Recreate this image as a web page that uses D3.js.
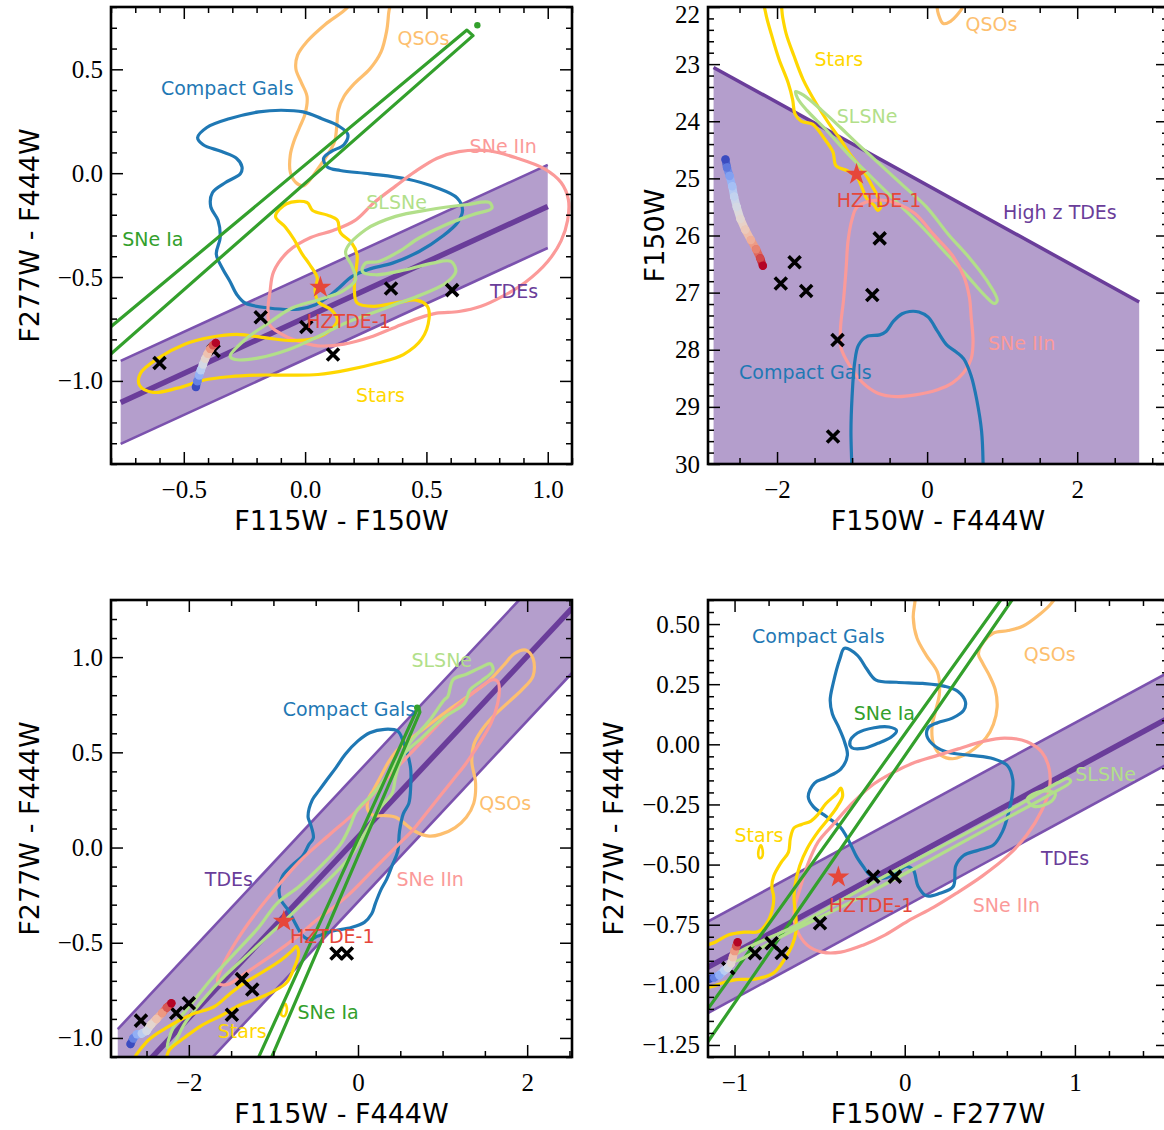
<!DOCTYPE html>
<html>
<head>
<meta charset="utf-8">
<script src="https://cdn.jsdelivr.net/npm/d3@7"></script>
<style>
  html, body { margin: 0; padding: 0; background: #ffffff; }
  svg { display: block; }
</style>
</head>
<body>
<script>
// ---------------------------------------------------------------------------
// Colour-colour / colour-magnitude diagrams for transient and source classes
// ---------------------------------------------------------------------------

// ---- Panel 1: F115W-F150W vs F277W-F444W ----
const p1XTicks = [-0.5, 0.0, 0.5, 1.0];
const p1XTickLabels = ["−0.5", "0.0", "0.5", "1.0"];
const p1YTicks = [0.5, 0.0, -0.5, -1.0];
const p1YTickLabels = ["0.5", "0.0", "−0.5", "−1.0"];
const p1TdeBand = { slope: 0.536, intercept: -0.696, halfWidth: 0.2, xMin: -0.76, xMax: 1.0 };
const p1Compact = [[-0.443,0.171],[-0.405,0.220],[-0.313,0.262],[-0.191,0.295],[-0.099,0.303],[-0.008,0.295],[0.069,0.262],[0.137,0.228],[0.176,0.187],[0.160,0.137],[0.107,0.104],[0.076,0.071],[0.092,0.030],[0.145,0.013],[0.267,-0.003],[0.420,-0.028],[0.542,-0.070],[0.626,-0.119],[0.649,-0.177],[0.630,-0.235],[0.566,-0.304],[0.470,-0.377],[0.360,-0.433],[0.263,-0.462],[0.194,-0.497],[0.139,-0.553],[0.098,-0.593],[0.043,-0.633],[-0.026,-0.654],[-0.150,-0.649],[-0.247,-0.625],[-0.281,-0.585],[-0.310,-0.520],[-0.340,-0.460],[-0.366,-0.390],[-0.350,-0.310],[-0.359,-0.227],[-0.389,-0.161],[-0.382,-0.094],[-0.328,-0.045],[-0.267,-0.003],[-0.260,0.030],[-0.282,0.071],[-0.344,0.104],[-0.420,0.137]];
const p1Qso = [[0.206,0.87],[0.176,0.800],[0.084,0.717],[0.008,0.634],[-0.031,0.568],[-0.038,0.502],[-0.015,0.435],[0.008,0.369],[0.0,0.286],[-0.023,0.220],[-0.046,0.154],[-0.061,0.088],[-0.061,0.005],[-0.038,-0.045],[-0.008,-0.061],[0.023,-0.028],[0.053,0.022],[0.092,0.088],[0.122,0.154],[0.130,0.220],[0.137,0.303],[0.160,0.369],[0.206,0.435],[0.267,0.502],[0.313,0.584],[0.336,0.684],[0.344,0.767],[0.351,0.87],[0.28,0.95]];
const p1SneIa = [[-0.90,-0.836],[0.667,0.689],[0.692,0.662],[-0.90,-0.972]];
const p1SneIaTip = [0.71, 0.712];
const p1SneIIn = [[-0.130,-0.475],[-0.069,-0.376],[0.023,-0.310],[0.115,-0.276],[0.206,-0.227],[0.282,-0.144],[0.374,-0.061],[0.450,0.005],[0.542,0.071],[0.634,0.104],[0.756,0.108],[0.878,0.071],[0.985,0.022],[1.055,-0.045],[1.085,-0.127],[1.082,-0.227],[1.055,-0.326],[1.0,-0.425],[0.908,-0.525],[0.817,-0.591],[0.725,-0.641],[0.634,-0.666],[0.542,-0.674],[0.466,-0.699],[0.374,-0.740],[0.267,-0.790],[0.160,-0.823],[0.053,-0.831],[-0.038,-0.806],[-0.099,-0.773],[-0.145,-0.732],[-0.153,-0.657],[-0.145,-0.575]];
const p1Slsne = [[-0.309,-0.881],[-0.247,-0.801],[-0.150,-0.721],[-0.054,-0.649],[0.056,-0.609],[0.153,-0.569],[0.208,-0.513],[0.194,-0.449],[0.167,-0.377],[0.249,-0.272],[0.373,-0.208],[0.511,-0.176],[0.663,-0.152],[0.759,-0.141],[0.770,-0.168],[0.690,-0.200],[0.580,-0.248],[0.470,-0.312],[0.387,-0.377],[0.304,-0.425],[0.249,-0.433],[0.236,-0.473],[0.291,-0.489],[0.415,-0.465],[0.525,-0.433],[0.601,-0.425],[0.621,-0.473],[0.580,-0.529],[0.497,-0.577],[0.387,-0.625],[0.277,-0.673],[0.167,-0.721],[0.056,-0.785],[-0.067,-0.849],[-0.191,-0.889],[-0.288,-0.897]];
const p1Stars = [[-0.122,-0.207],[-0.076,-0.147],[0.008,-0.141],[0.031,-0.180],[0.092,-0.202],[0.133,-0.227],[0.145,-0.285],[0.191,-0.334],[0.214,-0.392],[0.209,-0.475],[0.203,-0.558],[0.214,-0.624],[0.282,-0.641],[0.389,-0.621],[0.458,-0.611],[0.504,-0.641],[0.511,-0.699],[0.481,-0.798],[0.405,-0.873],[0.298,-0.914],[0.176,-0.947],[0.053,-0.969],[-0.069,-0.972],[-0.191,-0.972],[-0.313,-0.980],[-0.420,-0.997],[-0.527,-1.035],[-0.626,-1.055],[-0.682,-1.022],[-0.679,-0.964],[-0.603,-0.889],[-0.496,-0.823],[-0.389,-0.790],[-0.282,-0.776],[-0.160,-0.793],[-0.053,-0.806],[0.038,-0.795],[0.099,-0.760],[0.133,-0.707],[0.107,-0.657],[0.056,-0.621],[0.041,-0.566],[0.050,-0.505],[0.020,-0.442],[-0.015,-0.384],[-0.046,-0.318],[-0.081,-0.260]];
const p1Tdes = [[-0.600,-0.914],[-0.377,-0.856],[-0.183,-0.694],[0.005,-0.740],[0.115,-0.873],[0.354,-0.555],[0.606,-0.563]];
const p1Track = [[-0.450,-1.029],[-0.444,-1.002],[-0.437,-0.974],[-0.430,-0.949],[-0.421,-0.921],[-0.412,-0.894],[-0.402,-0.869],[-0.391,-0.846],[-0.380,-0.829],[-0.368,-0.817]];
const p1Hztde = [0.063, -0.550];
const p1Labels = [
  ["QSOs", 0.381, 0.649, "qso"], ["Compact Gals", -0.594, 0.409, "compact"],
  ["SNe IIn", 0.678, 0.132, "iin"], ["SLSNe", 0.252, -0.138, "slsn"],
  ["SNe Ia", -0.754, -0.316, "ia"], ["TDEs", 0.762, -0.565, "tde"],
  ["HZTDE-1", 0.005, -0.714, "hz"], ["Stars", 0.210, -1.070, "stars"]
];

// ---- Panel 2: F150W-F444W vs F150W ----
const p2XTicks = [-2, 0, 2];
const p2XTickLabels = ["−2", "0", "2"];
const p2YTicks = [22, 23, 24, 25, 26, 27, 28, 29, 30];
const p2YTickLabels = ["22", "23", "24", "25", "26", "27", "28", "29", "30"];
const p2TdeLimit = { slope: 0.724, intercept: 25.118, xMin: -2.846, xMax: 2.826 };
const p2Stars = [[-2.174,21.85],[-2.149,22.12],[-2.075,22.48],[-1.975,22.91],[-1.851,23.33],[-1.791,23.63],[-1.761,23.87],[-1.677,24.00],[-1.527,24.05],[-1.378,24.29],[-1.254,24.54],[-1.214,24.78],[-1.055,24.87],[-0.930,24.99],[-0.866,25.17],[-0.806,25.35],[-0.706,25.47],[-0.657,25.56],[-0.617,25.50],[-0.657,25.32],[-0.731,25.14],[-0.806,24.96],[-0.905,24.78],[-1.030,24.57],[-1.154,24.32],[-1.303,24.05],[-1.478,23.69],[-1.652,23.27],[-1.776,22.85],[-1.876,22.48],[-1.925,22.18],[-1.960,21.85],[-2.07,21.6]];
const p2Qso = [[0.129,21.80],[0.129,21.95],[0.149,22.12],[0.214,22.29],[0.313,22.25],[0.413,22.12],[0.488,21.97],[0.537,21.80],[0.33,21.6]];
const p2Slsne = [[-1.751,23.48],[-1.652,23.54],[-1.403,23.81],[-1.154,24.11],[-0.955,24.36],[-0.657,24.72],[-0.308,25.14],[-0.010,25.50],[0.289,25.99],[0.537,26.35],[0.786,26.77],[0.935,27.13],[0.896,27.19],[0.761,27.04],[0.537,26.71],[0.239,26.29],[-0.060,25.86],[-0.408,25.41],[-0.756,24.96],[-1.055,24.57],[-1.353,24.14],[-1.602,23.81],[-1.726,23.60]];
const p2SneIIn = [[-0.930,25.50],[-0.657,25.38],[-0.408,25.44],[-0.159,25.62],[0.090,25.99],[0.338,26.35],[0.488,26.71],[0.562,27.07],[0.587,27.43],[0.612,27.86],[0.587,28.16],[0.488,28.40],[0.338,28.58],[0.139,28.70],[-0.159,28.79],[-0.408,28.82],[-0.657,28.76],[-0.856,28.58],[-1.030,28.28],[-1.144,27.98],[-1.154,27.62],[-1.114,27.13],[-1.080,26.59],[-1.055,26.11],[-1.005,25.74]];
const p2Compact = [[-1.005,30.2],[-1.005,30.0],[-1.015,29.43],[-1.0,28.82],[-0.965,28.22],[-0.915,27.92],[-0.806,27.77],[-0.632,27.74],[-0.547,27.68],[-0.448,27.50],[-0.333,27.37],[-0.234,27.33],[-0.109,27.34],[0.015,27.43],[0.139,27.68],[0.264,27.92],[0.388,28.04],[0.488,28.16],[0.587,28.46],[0.662,28.88],[0.726,29.43],[0.746,30.0],[0.746,30.2],[-0.13,30.4]];
const p2Tdes = [[-1.766,26.47],[-1.950,26.84],[-1.612,26.97],[-0.632,26.05],[-0.731,27.04],[-1.194,27.83],[-1.254,29.52]];
const p2Track = [[-2.687,24.67],[-2.667,24.81],[-2.632,24.96],[-2.597,25.14],[-2.572,25.32],[-2.537,25.50],[-2.488,25.71],[-2.423,25.90],[-2.348,26.08],[-2.279,26.24],[-2.224,26.40],[-2.189,26.53]];
const p2Hztde = [-0.940, 24.93];
const p2Labels = [
  ["QSOs", 0.512, 22.30, "qso"], ["Stars", -1.502, 22.91, "stars"],
  ["SLSNe", -1.204, 23.90, "slsn"], ["High z TDEs", 1.010, 25.59, "tde"],
  ["HZTDE-1", -1.204, 25.38, "hz"], ["SNe IIn", 0.811, 27.89, "iin"],
  ["Compact Gals", -2.507, 28.39, "compact"]
];

// ---- Panel 3: F115W-F444W vs F277W-F444W ----
const p3XTicks = [-2, 0, 2];
const p3XTickLabels = ["−2", "0", "2"];
const p3YTicks = [1.0, 0.5, 0.0, -0.5, -1.0];
const p3YTickLabels = ["1.0", "0.5", "0.0", "−0.5", "−1.0"];
const p3TdeBand = { slope: 0.475, intercept: 0.055, halfWidth: 0.34, xMin: -2.84, xMax: 2.6 };
const p3Compact = [[0.316,0.621],[0.469,0.612],[0.535,0.557],[0.579,0.503],[0.623,0.413],[0.623,0.322],[0.601,0.232],[0.535,0.177],[0.491,0.087],[0.469,-0.022],[0.404,-0.094],[0.338,-0.167],[0.272,-0.221],[0.206,-0.293],[0.162,-0.348],[0.075,-0.393],[-0.079,-0.420],[-0.298,-0.438],[-0.474,-0.465],[-0.570,-0.483],[-0.649,-0.465],[-0.737,-0.402],[-0.825,-0.329],[-0.912,-0.275],[-0.934,-0.221],[-0.890,-0.148],[-0.781,-0.094],[-0.649,-0.040],[-0.583,0.014],[-0.528,0.050],[-0.561,0.123],[-0.590,0.160],[-0.540,0.250],[-0.460,0.300],[-0.370,0.355],[-0.260,0.420],[-0.150,0.490],[0.00,0.560],[0.140,0.603]];
const p3Qso = [[1.982,1.037],[2.070,0.992],[2.070,0.901],[1.939,0.829],[1.763,0.757],[1.588,0.684],[1.456,0.612],[1.368,0.539],[1.346,0.449],[1.390,0.340],[1.368,0.232],[1.281,0.159],[1.149,0.105],[0.974,0.069],[0.842,0.060],[0.667,0.087],[0.535,0.132],[0.447,0.159],[0.316,0.168],[0.184,0.168],[0.118,0.195],[0.118,0.250],[0.184,0.304],[0.272,0.376],[0.360,0.449],[0.447,0.503],[0.579,0.557],[0.798,0.630],[1.061,0.720],[1.325,0.802],[1.544,0.874],[1.719,0.956],[1.851,1.019]];
const p3SneIa = [[-1.276,-1.2],[0.702,0.729],[0.717,0.737],[0.732,0.711],[-1.117,-1.2]];
const p3SneIaTip = [0.70, 0.735];
const p3SneIIn = [[-1.658,-0.709],[-1.60,-0.62],[-1.45,-0.50],[-1.25,-0.37],[-1.0,-0.23],[-0.684,-0.07],[-0.331,0.07],[-0.095,0.16],[0.140,0.26],[0.376,0.38],[0.611,0.49],[0.847,0.60],[1.082,0.706],[1.357,0.811],[1.593,0.881],[1.652,0.872],[1.671,0.837],[1.652,0.758],[1.573,0.653],[1.436,0.548],[1.279,0.443],[1.122,0.355],[0.965,0.268],[0.808,0.180],[0.651,0.093],[0.533,0.040],[0.218,-0.100],[-0.135,-0.258],[-0.488,-0.381],[-0.723,-0.468],[-1.0,-0.56],[-1.30,-0.65],[-1.55,-0.72]];
const p3Slsne = [[-2.250,-1.053],[-2.184,-0.945],[-1.965,-0.818],[-1.702,-0.673],[-1.439,-0.547],[-1.175,-0.420],[-0.956,-0.293],[-0.693,-0.203],[-0.430,-0.094],[-0.211,0.014],[-0.101,0.105],[-0.013,0.195],[0.184,0.286],[0.404,0.413],[0.623,0.557],[0.842,0.666],[1.018,0.775],[1.061,0.793],[1.127,0.883],[1.281,0.910],[1.456,0.947],[1.566,0.965],[1.596,0.929],[1.456,0.874],[1.325,0.829],[1.259,0.757],[1.018,0.684],[0.754,0.576],[0.535,0.485],[0.447,0.376],[0.404,0.286],[0.272,0.214],[0.096,0.087],[-0.079,-0.040],[-0.298,-0.148],[-0.518,-0.239],[-0.781,-0.348],[-1.044,-0.456],[-1.307,-0.565],[-1.570,-0.673],[-1.833,-0.800],[-2.053,-0.927],[-2.184,-1.035]];
const p3Stars = [[-2.667,-1.144],[-2.491,-1.017],[-2.272,-0.948],[-1.965,-0.876],[-1.702,-0.836],[-1.526,-0.773],[-1.351,-0.713],[-1.132,-0.655],[-0.912,-0.592],[-0.781,-0.543],[-0.728,-0.519],[-0.702,-0.556],[-0.759,-0.637],[-0.846,-0.710],[-1.0,-0.755],[-1.175,-0.791],[-1.395,-0.827],[-1.614,-0.882],[-1.855,-0.936],[-2.053,-0.999],[-2.228,-1.062],[-2.316,-1.144]];
const p3StarsBlob = [[-0.90,-0.85],[-0.86,-0.82],[-0.84,-0.85],[-0.87,-0.885],[-0.905,-0.88]];
const p3Tdes = [[-2.566,-0.909],[-2.149,-0.869],[-2.0,-0.818],[-1.491,-0.878],[-1.373,-0.691],[-1.25,-0.746],[-0.254,-0.556],[-0.132,-0.556]];
const p3Track = [[-2.689,-1.032],[-2.658,-1.003],[-2.614,-0.981],[-2.557,-0.977],[-2.500,-0.963],[-2.447,-0.930],[-2.382,-0.900],[-2.316,-0.869],[-2.259,-0.840],[-2.206,-0.818]];
const p3Hztde = [-0.877, -0.387];
const p3Labels = [
  ["SLSNe", 0.632, 0.983, "slsn"], ["Compact Gals", -0.890, 0.729, "compact"],
  ["QSOs", 1.434, 0.232, "qso"], ["TDEs", -1.811, -0.163, "tde"],
  ["SNe IIn", 0.456, -0.163, "iin"], ["HZTDE-1", -0.803, -0.462, "hz"],
  ["SNe Ia", -0.715, -0.863, "ia"], ["Stars", -1.658, -0.963, "stars"]
];

// ---- Panel 4: F150W-F277W vs F277W-F444W ----
const p4XTicks = [-1, 0, 1];
const p4XTickLabels = ["−1", "0", "1"];
const p4YTicks = [0.5, 0.25, 0.0, -0.25, -0.5, -0.75, -1.0, -1.25];
const p4YTickLabels = ["0.50", "0.25", "0.00", "−0.25", "−0.50", "−0.75", "−1.00", "−1.25"];
const p4TdeBand = { slope: 0.383, intercept: -0.484, halfWidth: 0.19, xMin: -1.2, xMax: 1.6 };
const p4Compact = [[-0.354,0.399],[-0.278,0.370],[-0.223,0.313],[-0.168,0.267],[-0.048,0.258],[0.105,0.253],[0.236,0.241],[0.313,0.220],[0.357,0.176],[0.346,0.141],[0.280,0.109],[0.193,0.090],[0.138,0.069],[0.131,0.033],[0.182,-0.010],[0.258,-0.034],[0.389,-0.046],[0.521,-0.060],[0.604,-0.089],[0.635,-0.146],[0.630,-0.218],[0.608,-0.290],[0.575,-0.362],[0.521,-0.419],[0.433,-0.440],[0.346,-0.462],[0.300,-0.505],[0.285,-0.591],[0.207,-0.619],[0.128,-0.630],[0.079,-0.591],[0.050,-0.522],[0.011,-0.508],[-0.067,-0.543],[-0.146,-0.557],[-0.205,-0.543],[-0.244,-0.508],[-0.283,-0.467],[-0.312,-0.425],[-0.342,-0.384],[-0.381,-0.342],[-0.459,-0.301],[-0.537,-0.259],[-0.567,-0.218],[-0.530,-0.161],[-0.464,-0.139],[-0.376,-0.103],[-0.337,-0.046],[-0.354,0.011],[-0.387,0.069],[-0.425,0.126],[-0.438,0.184],[-0.420,0.255],[-0.381,0.356]];
const p4CompactInner = [[-0.322,0.011],[-0.278,0.047],[-0.179,0.069],[-0.092,0.072],[-0.048,0.057],[-0.081,0.029],[-0.158,0.004],[-0.245,-0.017],[-0.311,-0.014]];
const p4Qso = [[0.061,0.66],[0.061,0.600],[0.050,0.528],[0.072,0.442],[0.127,0.370],[0.193,0.298],[0.204,0.212],[0.182,0.141],[0.160,0.069],[0.171,-0.003],[0.214,-0.046],[0.280,-0.060],[0.346,-0.046],[0.411,-0.017],[0.477,0.026],[0.521,0.083],[0.543,0.155],[0.532,0.227],[0.499,0.284],[0.455,0.341],[0.433,0.377],[0.466,0.428],[0.521,0.463],[0.608,0.473],[0.696,0.492],[0.783,0.535],[0.860,0.585],[0.915,0.66],[0.5,0.75]];
const p4SneIa = [[-1.3,-1.242],[0.8,0.833],[0.8,0.774],[-1.3,-1.384]];
const p4SneIIn = [[0.586,0.026],[0.718,0.011],[0.805,-0.032],[0.849,-0.103],[0.849,-0.189],[0.805,-0.275],[0.718,-0.376],[0.608,-0.462],[0.455,-0.548],[0.302,-0.620],[0.171,-0.677],[0.018,-0.735],[-0.114,-0.792],[-0.245,-0.835],[-0.376,-0.864],[-0.486,-0.864],[-0.573,-0.835],[-0.639,-0.763],[-0.650,-0.692],[-0.617,-0.605],[-0.573,-0.505],[-0.508,-0.405],[-0.420,-0.333],[-0.311,-0.247],[-0.201,-0.175],[-0.070,-0.118],[0.061,-0.075],[0.193,-0.046],[0.324,-0.017],[0.455,0.011]];
const p4Slsne = [[-1.0,-0.88],[-0.6,-0.74],[-0.2,-0.58],[0.2,-0.43],[0.6,-0.28],[0.9,-0.16],[0.958,-0.142],[0.975,-0.155],[0.85,-0.21],[0.5,-0.345],[0.1,-0.50],[-0.3,-0.65],[-0.7,-0.79],[-1.0,-0.90]];
const p4SlsneBlob = [[0.72,-0.228],[0.80,-0.195],[0.885,-0.205],[0.86,-0.238],[0.76,-0.258]];
const p4Stars = [[-0.376,-0.182],[-0.398,-0.204],[-0.464,-0.247],[-0.508,-0.290],[-0.551,-0.319],[-0.606,-0.333],[-0.650,-0.347],[-0.672,-0.390],[-0.683,-0.448],[-0.726,-0.491],[-0.770,-0.548],[-0.781,-0.591],[-0.770,-0.634],[-0.775,-0.677],[-0.803,-0.735],[-0.858,-0.778],[-0.945,-0.781],[-1.033,-0.792],[-1.109,-0.821],[-1.186,-0.849],[-1.186,-1.007],[-1.131,-1.007],[-1.077,-0.993],[-0.989,-0.978],[-0.880,-0.976],[-0.770,-0.950],[-0.705,-0.892],[-0.661,-0.835],[-0.639,-0.778],[-0.639,-0.720],[-0.650,-0.649],[-0.646,-0.591],[-0.617,-0.505],[-0.573,-0.433],[-0.508,-0.362],[-0.442,-0.304],[-0.398,-0.261],[-0.365,-0.215]];
const p4StarsBlob = [[-0.847,-0.420],[-0.835,-0.440],[-0.840,-0.470],[-0.855,-0.472],[-0.860,-0.445]];
const p4Tdes = [[-1.037,-0.931],[-0.880,-0.869],[-0.782,-0.827],[-0.723,-0.868],[-0.498,-0.744],[-0.185,-0.550],[-0.058,-0.550]];
const p4Track = [[-1.15,-0.975],[-1.12,-0.970],[-1.09,-0.960],[-1.06,-0.940],[-1.04,-0.930],[-1.02,-0.910],[-1.01,-0.885],[-1.00,-0.860],[-0.99,-0.840],[-0.982,-0.823]];
const p4Hztde = [-0.390, -0.552];
const p4Labels = [
  ["Compact Gals", -0.897, 0.449, "compact"], ["QSOs", 0.700, 0.377, "qso"],
  ["SNe Ia", -0.300, 0.129, "ia"], ["SLSNe", 1.002, -0.125, "slsn"],
  ["Stars", -1.0, -0.376, "stars"], ["TDEs", 0.801, -0.473, "tde"],
  ["HZTDE-1", -0.446, -0.670, "hz"], ["SNe IIn", 0.400, -0.670, "iin"]
];

// ---------------------------------------------------------------------------
// Styling
// ---------------------------------------------------------------------------
const colours = {
  compact: "#1f78b4", qso: "#fdbf6f", ia: "#33a02c", iin: "#fb9a99",
  slsn: "#b2df8a", stars: "#ffd700", tde: "#6a3d9a", hz: "#e6473a"
};
const bandFill = "rgba(106,61,154,0.5)";
const bandEdge = "#7b52ae";
const coolwarm = d3.interpolateRgbBasis(["#3b4cc0", "#7b9ff9", "#c0d4f5", "#dddddd", "#f2cbb7", "#ee8468", "#b40426"]);

const W = 1164, H = 1130;
const svg = d3.select("body").append("svg").attr("width", W).attr("height", H)
  .attr("viewBox", `0 0 ${W} ${H}`);

function drawPanel(P) {
  const g = svg.append("g").attr("transform", `translate(${P.left},${P.top})`);
  const x = d3.scaleLinear().domain(P.xDomain).range([0, P.w]);
  const y = d3.scaleLinear().domain(P.yDomain).range(P.yDown ? [0, P.h] : [P.h, 0]);

  const clipId = "clip-" + P.id;
  g.append("clipPath").attr("id", clipId)
    .append("rect").attr("width", P.w).attr("height", P.h);
  const plot = g.append("g").attr("clip-path", `url(#${clipId})`);

  const lineGen = d3.line().x(d => x(d[0])).y(d => y(d[1]));

  // TDE band: fill, edges, centre relation
  if (P.band) {
    const b = P.band;
    const f = v => b.slope * v + b.intercept;
    const poly = [[b.xMin, f(b.xMin) + b.halfWidth], [b.xMax, f(b.xMax) + b.halfWidth],
                  [b.xMax, f(b.xMax) - b.halfWidth], [b.xMin, f(b.xMin) - b.halfWidth]];
    plot.append("path").attr("d", lineGen.curve(d3.curveLinearClosed)(poly))
      .attr("fill", bandFill).attr("stroke", "none");
    [b.halfWidth, -b.halfWidth].forEach(o => {
      plot.append("path")
        .attr("d", lineGen.curve(d3.curveLinear)([[b.xMin, f(b.xMin) + o], [b.xMax, f(b.xMax) + o]]))
        .attr("fill", "none").attr("stroke", bandEdge).attr("stroke-width", 2.6);
    });
    plot.append("path")
      .attr("d", lineGen.curve(d3.curveLinear)([[b.xMin, f(b.xMin)], [b.xMax, f(b.xMax)]]))
      .attr("fill", "none").attr("stroke", colours.tde).attr("stroke-width", 5.5);
  }
  // Magnitude limit region for high-z TDEs
  if (P.limit) {
    const L = P.limit;
    const f = v => L.slope * v + L.intercept;
    const yBottom = P.yDomain[1];
    const poly = [[L.xMin, f(L.xMin)], [L.xMax, f(L.xMax)], [L.xMax, yBottom], [L.xMin, yBottom]];
    plot.append("path").attr("d", lineGen.curve(d3.curveLinearClosed)(poly))
      .attr("fill", bandFill).attr("stroke", "none");
    plot.append("path")
      .attr("d", lineGen.curve(d3.curveLinear)([[L.xMin, f(L.xMin)], [L.xMax, f(L.xMax)]]))
      .attr("fill", "none").attr("stroke", colours.tde).attr("stroke-width", 3.5);
  }

  // Population contours
  P.contours.forEach(c => {
    plot.append("path")
      .attr("d", lineGen.curve(c.straight ? d3.curveLinearClosed : d3.curveCatmullRomClosed.alpha(0.5))(c.pts))
      .attr("fill", "none").attr("stroke", colours[c.key])
      .attr("stroke-width", c.width || 3.2).attr("stroke-linejoin", "round");
  });
  (P.dots || []).forEach(d => {
    plot.append("circle").attr("cx", x(d.pt[0])).attr("cy", y(d.pt[1]))
      .attr("r", 3.2).attr("fill", colours[d.key]);
  });

  // Known TDEs
  plot.selectAll("path.tde-x").data(P.tdes).enter().append("path")
    .attr("class", "tde-x")
    .attr("transform", d => `translate(${x(d[0])},${y(d[1])})`)
    .attr("d", "M-6,-6L6,6M-6,6L6,-6")
    .attr("stroke", "#000").attr("stroke-width", 3.6).attr("fill", "none");

  // Model evolution track, coloured blue -> red
  const n = P.track.length;
  for (let i = 0; i < n - 1; i++) {
    plot.append("line")
      .attr("x1", x(P.track[i][0])).attr("y1", y(P.track[i][1]))
      .attr("x2", x(P.track[i + 1][0])).attr("y2", y(P.track[i + 1][1]))
      .attr("stroke", coolwarm((i + 0.5) / (n - 1))).attr("stroke-width", 8)
      .attr("stroke-linecap", "round");
  }
  P.track.forEach((d, i) => {
    plot.append("circle").attr("cx", x(d[0])).attr("cy", y(d[1])).attr("r", 4.2)
      .attr("fill", coolwarm(i / (n - 1)));
  });

  // HZTDE-1
  plot.append("path")
    .attr("transform", `translate(${x(P.hz[0])},${y(P.hz[1])})`)
    .attr("d", d3.symbol(d3.symbolStar, 150)())
    .attr("fill", colours.hz);

  // Annotations
  P.labels.forEach(l => {
    plot.append("text")
      .attr("x", x(l[1])).attr("y", y(l[2]))
      .attr("dominant-baseline", "central")
      .attr("font-family", "DejaVu Sans, sans-serif").attr("font-size", 19)
      .attr("fill", colours[l[3]]).text(l[0]);
  });

  // Axes: inward ticks on all four sides
  const tickFont = g2 => g2.selectAll("text")
    .attr("font-family", "Liberation Serif, serif").attr("font-size", 25).attr("fill", "#000");
  const minorVals = (dom, step, majors) => {
    const lo = Math.min(dom[0], dom[1]), hi = Math.max(dom[0], dom[1]);
    return d3.range(Math.ceil(lo / step - 1e-9), Math.floor(hi / step + 1e-9) + 1)
      .map(i => +(i * step).toFixed(6))
      .filter(v => !majors.some(m => Math.abs(m - v) < 1e-6));
  };
  const xMinor = minorVals(P.xDomain, P.xMinorStep, P.xTicks);
  const yMinor = minorVals(P.yDomain, P.yMinorStep, P.yTicks);
  const major = 12, minor = 6;

  const ax = [];
  ax.push(g.append("g").attr("transform", `translate(0,${P.h})`)
    .call(d3.axisBottom(x).tickValues(P.xTicks).tickFormat((d, i) => P.xTickLabels[i])
      .tickSizeInner(-major).tickSizeOuter(0).tickPadding(16)).call(tickFont));
  ax.push(g.append("g").attr("transform", `translate(0,${P.h})`)
    .call(d3.axisBottom(x).tickValues(xMinor).tickFormat("").tickSizeInner(-minor).tickSizeOuter(0)));
  ax.push(g.append("g")
    .call(d3.axisTop(x).tickValues(P.xTicks).tickFormat("").tickSizeInner(-major).tickSizeOuter(0)));
  ax.push(g.append("g")
    .call(d3.axisTop(x).tickValues(xMinor).tickFormat("").tickSizeInner(-minor).tickSizeOuter(0)));
  const yAxisG = g.append("g")
    .call(d3.axisLeft(y).tickValues(P.yTicks).tickFormat((d, i) => P.yTickLabels[i])
      .tickSizeInner(-major).tickSizeOuter(0).tickPadding(8)).call(tickFont);
  ax.push(yAxisG);
  ax.push(g.append("g")
    .call(d3.axisLeft(y).tickValues(yMinor).tickFormat("").tickSizeInner(-minor).tickSizeOuter(0)));
  ax.push(g.append("g").attr("transform", `translate(${P.w},0)`)
    .call(d3.axisRight(y).tickValues(P.yTicks).tickFormat("").tickSizeInner(-major).tickSizeOuter(0)));
  ax.push(g.append("g").attr("transform", `translate(${P.w},0)`)
    .call(d3.axisRight(y).tickValues(yMinor).tickFormat("").tickSizeInner(-minor).tickSizeOuter(0)));
  ax.forEach(a => {
    a.select(".domain").remove();
    a.selectAll(".tick line").attr("stroke", "#000").attr("stroke-width", 1.5);
  });

  // keep a tick label that sits on the top edge of the canvas fully visible
  yAxisG.selectAll(".tick text").each(function () {
    const r = this.getBoundingClientRect();
    if (r.top < 0) {
      d3.select(this).attr("y", (+d3.select(this).attr("y") || 0) - r.top + 0.5);
    }
  });

  g.append("rect").attr("width", P.w).attr("height", P.h)
    .attr("fill", "none").attr("stroke", "#000").attr("stroke-width", 2.6);

  // Axis titles
  g.append("text")
    .attr("x", P.w / 2).attr("y", P.h + 66)
    .attr("text-anchor", "middle")
    .attr("font-family", "DejaVu Sans, sans-serif").attr("font-size", 27).attr("fill", "#000")
    .text(P.xTitle);
  g.append("text")
    .attr("transform", `translate(${P.yTitleX},${P.h / 2}) rotate(-90)`)
    .attr("text-anchor", "middle")
    .attr("font-family", "DejaVu Sans, sans-serif").attr("font-size", 27).attr("fill", "#000")
    .text(P.yTitle);
}

drawPanel({
  id: 1, left: 111, top: 7, w: 461, h: 457,
  xDomain: [-0.8, 1.1], yDomain: [-1.4, 0.8],
  xTicks: p1XTicks, xTickLabels: p1XTickLabels, yTicks: p1YTicks, yTickLabels: p1YTickLabels,
  xMinorStep: 0.1, yMinorStep: 0.1,
  band: p1TdeBand,
  contours: [
    { key: "qso", pts: p1Qso }, { key: "compact", pts: p1Compact },
    { key: "iin", pts: p1SneIIn }, { key: "stars", pts: p1Stars },
    { key: "slsn", pts: p1Slsne }, { key: "ia", pts: p1SneIa, straight: true }
  ],
  dots: [{ key: "ia", pt: p1SneIaTip }],
  tdes: p1Tdes, track: p1Track, hz: p1Hztde, labels: p1Labels,
  xTitle: "F115W - F150W", yTitle: "F277W - F444W", yTitleX: -72
});

drawPanel({
  id: 2, left: 708, top: 7, w: 460, h: 457,
  xDomain: [-2.92, 3.21], yDomain: [22, 30], yDown: true,
  xTicks: p2XTicks, xTickLabels: p2XTickLabels, yTicks: p2YTicks, yTickLabels: p2YTickLabels,
  xMinorStep: 0.5, yMinorStep: 0.2,
  limit: p2TdeLimit,
  contours: [
    { key: "qso", pts: p2Qso }, { key: "stars", pts: p2Stars },
    { key: "slsn", pts: p2Slsne }, { key: "iin", pts: p2SneIIn },
    { key: "compact", pts: p2Compact }
  ],
  tdes: p2Tdes, track: p2Track, hz: p2Hztde, labels: p2Labels,
  xTitle: "F150W - F444W", yTitle: "F150W", yTitleX: -44
});

drawPanel({
  id: 3, left: 111, top: 600, w: 461, h: 457,
  xDomain: [-2.92, 2.53], yDomain: [-1.1, 1.3],
  xTicks: p3XTicks, xTickLabels: p3XTickLabels, yTicks: p3YTicks, yTickLabels: p3YTickLabels,
  xMinorStep: 0.5, yMinorStep: 0.1,
  band: p3TdeBand,
  contours: [
    { key: "qso", pts: p3Qso }, { key: "compact", pts: p3Compact },
    { key: "iin", pts: p3SneIIn }, { key: "slsn", pts: p3Slsne },
    { key: "stars", pts: p3Stars }, { key: "stars", pts: p3StarsBlob, width: 2.6 },
    { key: "ia", pts: p3SneIa, straight: true }
  ],
  dots: [{ key: "ia", pt: p3SneIaTip }],
  tdes: p3Tdes, track: p3Track, hz: p3Hztde, labels: p3Labels,
  xTitle: "F115W - F444W", yTitle: "F277W - F444W", yTitleX: -72
});

drawPanel({
  id: 4, left: 708, top: 600, w: 460, h: 457,
  xDomain: [-1.156, 1.547], yDomain: [-1.3, 0.6],
  xTicks: p4XTicks, xTickLabels: p4XTickLabels, yTicks: p4YTicks, yTickLabels: p4YTickLabels,
  xMinorStep: 0.2, yMinorStep: 0.05,
  band: p4TdeBand,
  contours: [
    { key: "qso", pts: p4Qso }, { key: "compact", pts: p4Compact },
    { key: "compact", pts: p4CompactInner }, { key: "iin", pts: p4SneIIn },
    { key: "stars", pts: p4Stars }, { key: "stars", pts: p4StarsBlob, width: 2.6 },
    { key: "ia", pts: p4SneIa, straight: true },
    { key: "slsn", pts: p4Slsne }, { key: "slsn", pts: p4SlsneBlob }
  ],
  tdes: p4Tdes, track: p4Track, hz: p4Hztde, labels: p4Labels,
  xTitle: "F150W - F277W", yTitle: "F277W - F444W", yTitleX: -85
});
</script>
</body>
</html>
